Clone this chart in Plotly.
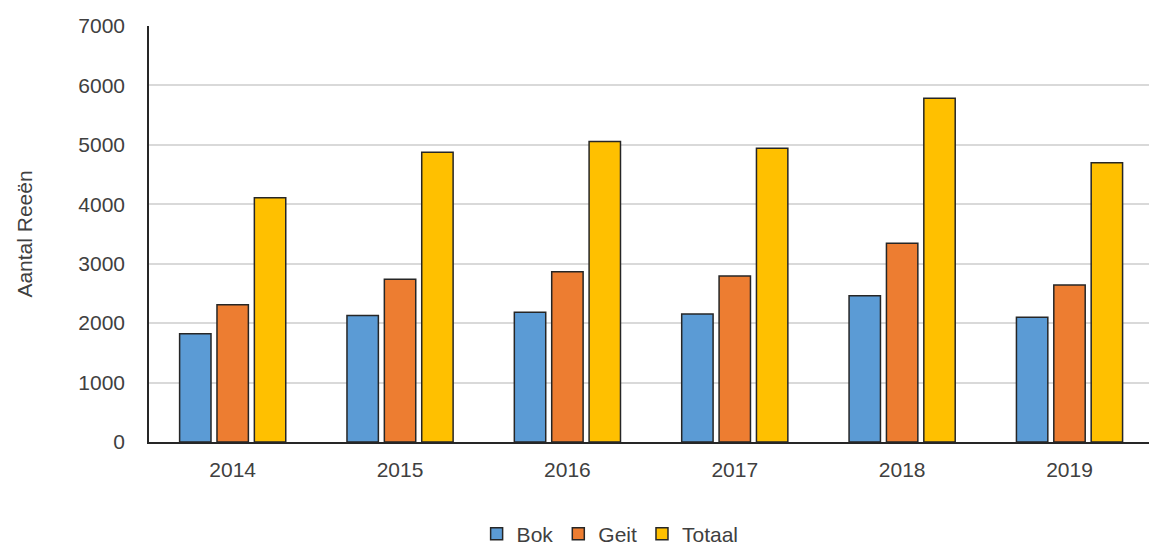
import plotly.graph_objects as go

years = ["2014", "2015", "2016", "2017", "2018", "2019"]
bok = [1820, 2130, 2185, 2155, 2460, 2100]
geit = [2310, 2740, 2865, 2795, 3345, 2640]
totaal = [4110, 4875, 5055, 4945, 5785, 4700]

series = [("Bok", bok, "#5B9BD5"), ("Geit", geit, "#ED7D31"), ("Totaal", totaal, "#FFC000")]

fig = go.Figure()
for name, vals, col in series:
    fig.add_trace(go.Bar(
        x=years, y=vals, name=name,
        marker=dict(color=col, line=dict(color="#262626", width=1.5)),
    ))

font_family = "Liberation Sans, Arial, sans-serif"
W, H = 1149, 545
fig.update_layout(
    width=W, height=H,
    margin=dict(l=149, r=0, t=26, b=103, autoexpand=False),
    paper_bgcolor="white", plot_bgcolor="white",
    barmode="group", bargap=0.33, bargroupgap=0.16,
    font=dict(family=font_family, size=21, color="#404040"),
    showlegend=True,
    legend=dict(orientation="h", xref="container", yref="container",
                x=0.531, xanchor="center", y=0.02, yanchor="middle",
                font=dict(size=21, color="#404040"), itemwidth=30, traceorder="normal"),
    xaxis=dict(type="category", range=[-0.5, 5.475],
               showline=True, linecolor="#262626", linewidth=1.5, showgrid=False,
               ticks="", ticklabelstandoff=8, tickfont=dict(size=21, color="#404040")),
    yaxis=dict(range=[0, 7000], dtick=1000, showgrid=True, gridcolor="#D9D9D9", gridwidth=1.5,
               showline=True, linecolor="#262626", linewidth=1.5, zeroline=False,
               ticks="", ticklabelstandoff=18, tickfont=dict(size=21, color="#404040"),
               title=dict(text="Aantal Reeën", standoff=40, font=dict(size=21, color="#404040"))),
)

fig.write_html("out.html", config={"displayModeBar": False},
               post_script="document.body.style.margin='0';document.body.style.overflow='hidden';")
